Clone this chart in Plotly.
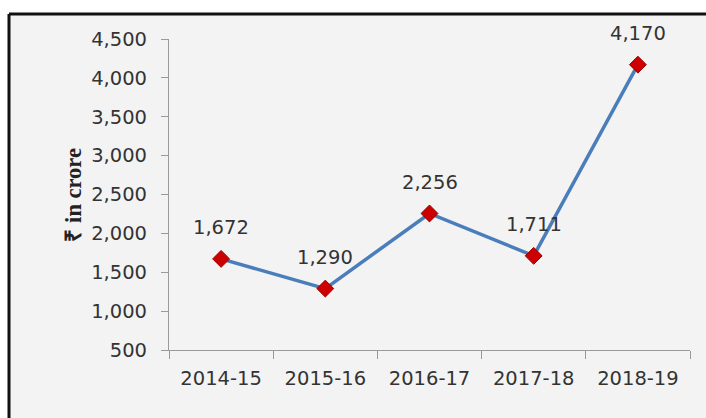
import plotly.graph_objects as go

years = ["2014-15", "2015-16", "2016-17", "2017-18", "2018-19"]
values = [1672, 1290, 2256, 1711, 4170]
y_ticks = [500, 1000, 1500, 2000, 2500, 3000, 3500, 4000, 4500]
y_title = "₹ in crore"

W, H = 706, 418
L, R, T, B = 169, 16, 39, 68
pw, ph = W - L - R, H - T - B

def px_x(p):
    return (p - L) / pw

def px_y(p):
    return (H - B - p) / ph

fig = go.Figure()
fig.add_trace(go.Scatter(
    x=years, y=values, mode="lines+markers",
    line=dict(color="#4a7ebb", width=3.5),
    marker=dict(symbol="diamond", size=13, color="#cc0000",
                line=dict(color="#9a0000", width=1)),
    hoverinfo="skip", showlegend=False,
))

for yr, v in zip(years, values):
    fig.add_annotation(x=yr, y=v, text=f"{v:,}", showarrow=False,
                       yshift=31, font=dict(family="DejaVu Sans", size=19.5, color="#333333"))

fig.add_annotation(xref="paper", yref="paper", x=px_x(58), y=px_y(195),
                   text=f"<b>{y_title}</b>", textangle=-90, showarrow=False,
                   font=dict(family="Liberation Serif", size=22.5, color="#222222"))

# chart area background + top/left frame
fig.add_shape(type="rect", xref="paper", yref="paper",
              x0=px_x(9), x1=px_x(740), y0=px_y(450), y1=px_y(14),
              fillcolor="#f3f3f3", line=dict(width=0), layer="below")
fig.add_shape(type="line", xref="paper", yref="paper",
              x0=px_x(9), x1=px_x(740), y0=px_y(14), y1=px_y(14),
              line=dict(color="#111111", width=3), layer="below")
fig.add_shape(type="line", xref="paper", yref="paper",
              x0=px_x(9), x1=px_x(9), y0=px_y(14), y1=px_y(450),
              line=dict(color="#111111", width=3), layer="below")

fig.update_layout(
    width=W, height=H,
    margin=dict(l=L, r=R, t=T, b=B),
    paper_bgcolor="white", plot_bgcolor="rgba(0,0,0,0)",
    font=dict(family="DejaVu Sans", size=19.5, color="#333333"),
    xaxis=dict(type="category", range=[-0.5, 4.5], showgrid=False, zeroline=False,
               showline=True, linecolor="#9a9a9a", linewidth=1.2,
               ticks="outside", ticklen=8, tickcolor="#9a9a9a", tickson="boundaries",
               ticklabelstandoff=10, fixedrange=True),
    yaxis=dict(range=[500, 4500], tickvals=y_ticks, ticktext=[f"{t:,}" for t in y_ticks],
               showgrid=False, zeroline=False,
               showline=True, linecolor="#9a9a9a", linewidth=1.2,
               ticks="outside", ticklen=7, tickcolor="#9a9a9a",
               ticklabelstandoff=10, fixedrange=True),
)

fig.write_html("out.html", config={"displayModeBar": False},
               post_script="document.body.style.margin='0';document.body.style.overflow='hidden';")
